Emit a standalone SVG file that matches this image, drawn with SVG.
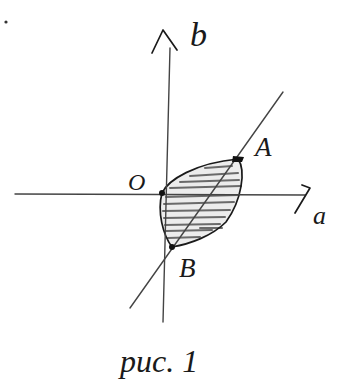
<svg xmlns="http://www.w3.org/2000/svg" width="342" height="383" viewBox="0 0 342 383">
<style>
.ax{fill:none;stroke:#444;stroke-width:1.4;stroke-linecap:round;stroke-linejoin:round}
.ink{fill:none;stroke:#1a1a1a;stroke-width:1.7;stroke-linecap:round;stroke-linejoin:round}
.hatch{fill:none;stroke:#6a6a6a;stroke-width:2;stroke-linecap:round}
.lbl{font-family:"Liberation Serif",serif;font-style:italic;fill:#1a1a1a}
.pt{fill:#111}
</style>
<rect width="342" height="383" fill="#fff"/>
<circle cx="6" cy="22" r="1.6" fill="#333"/>
<g id="region">
<path d="M162,193 C168,180 195,163 238,159 C246,170 242,200 226,222 C212,236 190,244 172,247 C163,235 157,212 162,193 Z" fill="#ececec"/>
<g class="hatch">
<path d="M205,168 L232,166"/><path d="M190,176 L238,173"/><path d="M180,182 L239,180"/><path d="M170,188 L241,186"/><path d="M166,197 L238,195"/><path d="M164,204 L234,202"/><path d="M163,211 L230,210"/><path d="M164,218 L225,217"/><path d="M165,225 L220,224"/><path d="M166,231 L212,230"/><path d="M168,238 L200,237"/><path d="M200,228 L222,228"/>
</g>
<path class="ink" d="M162,193 C168,180 195,163 238,159 C246,170 242,200 226,222 C212,236 190,244 172,247 C163,235 157,212 162,193 Z"/>
</g>
<g id="connectors">
<path id="axis-a" class="ax" d="M15,194 L305,195"/>
<path class="ink" d="M302,185 L310,188 L295,213"/>
<path id="axis-b" class="ax" d="M163,322 L170,48"/>
<path class="ink" d="M152,53 L163,30 L177,50"/>
<path id="line-AB" class="ax" d="M130,308 L283,92"/>
</g>
<g id="O"><circle class="pt" cx="162" cy="193" r="3"/><text class="lbl" x="128" y="190" font-size="24">O</text></g>
<g id="A"><path class="pt" d="M233,156 L244,157 L242,162 L232,162 Z"/><text class="lbl" x="255" y="156" font-size="27">A</text></g>
<g id="B"><circle class="pt" cx="172" cy="247" r="3"/><text class="lbl" x="179" y="277" font-size="27">B</text></g>
<g id="label-a"><text class="lbl" x="313" y="224" font-size="26">a</text></g>
<g id="label-b"><text class="lbl" x="190" y="46" font-size="34">b</text></g>
<g id="caption"><text class="lbl" x="120" y="372" font-size="32">рис. 1</text></g>
</svg>
